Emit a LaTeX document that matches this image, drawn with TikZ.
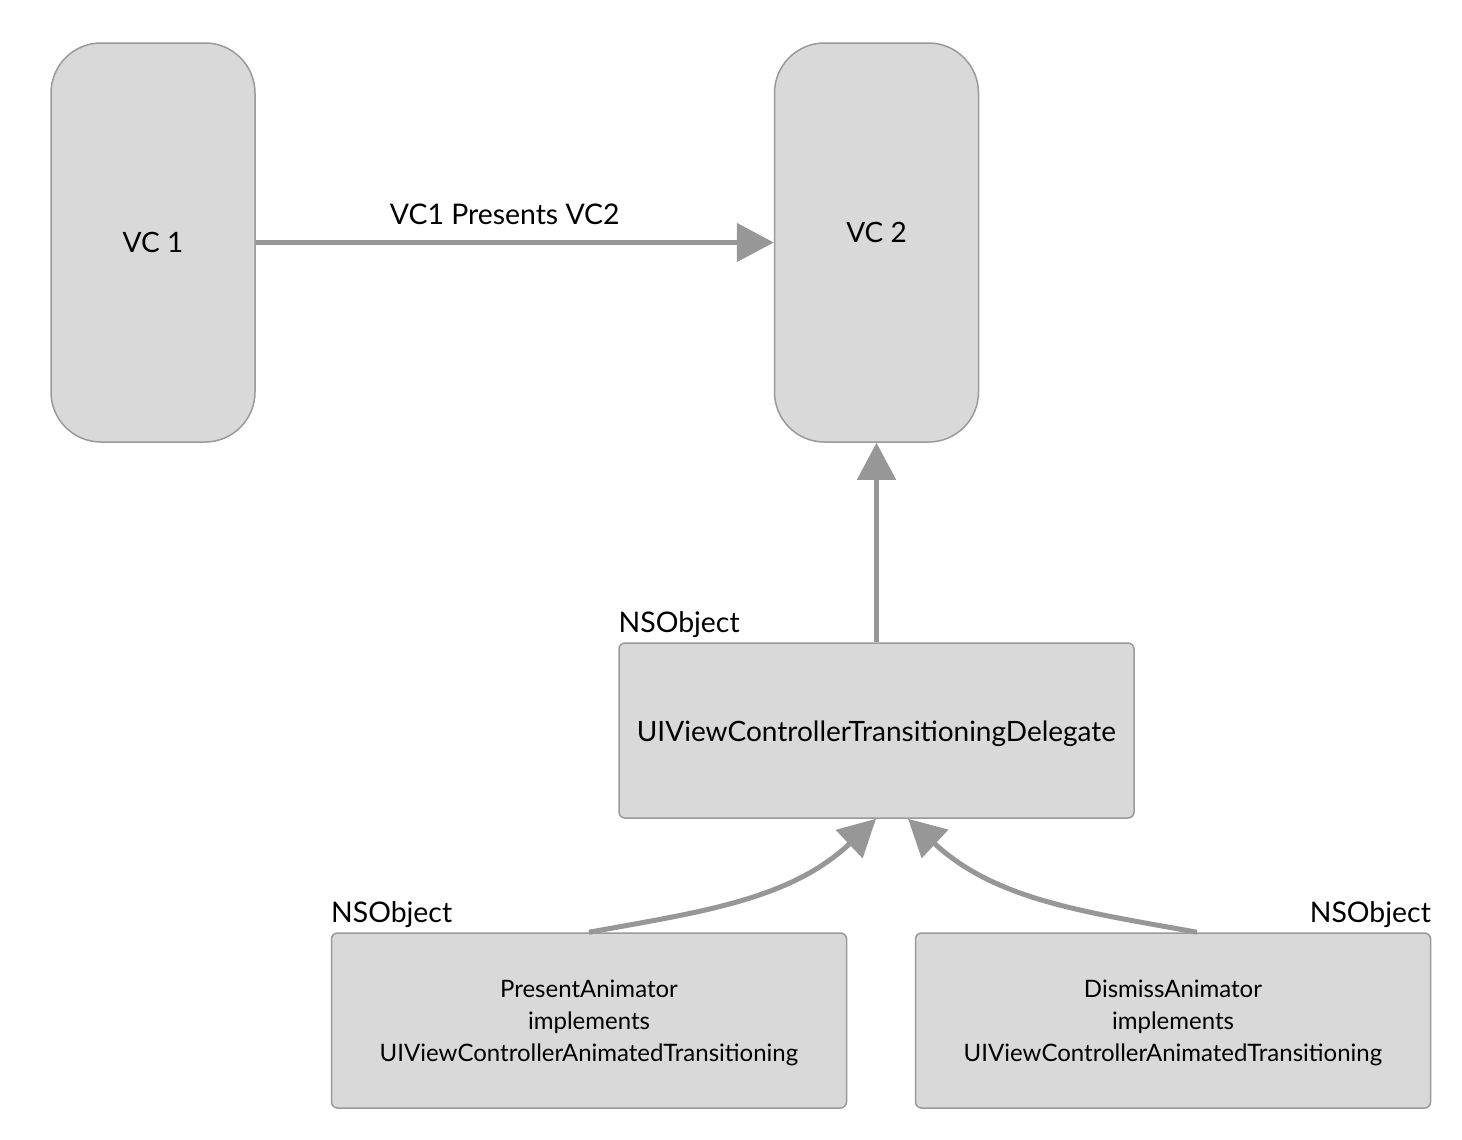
\documentclass[tikz,border=0pt]{standalone}
\usepackage{fontspec}
\setmainfont{Lato}
\usepackage{tikz}
\usetikzlibrary{arrows.meta,positioning}
\definecolor{boxfill}{HTML}{D9D9D9}
\definecolor{boxline}{HTML}{9A9A9A}
\definecolor{arrowgray}{HTML}{979797}

\begin{document}
\begin{tikzpicture}[x=0.5pt,y=-0.5pt,
    vcbox/.style={draw=boxline, fill=boxfill, line width=0.75pt, rounded corners=25pt,
        minimum width=102pt, minimum height=199.5pt, font=\fontsize{14}{16}\selectfont},
    objbox/.style={draw=boxline, fill=boxfill, line width=0.75pt, rounded corners=3pt,
        minimum width=257.5pt, minimum height=87.5pt, align=center},
    tag/.style={inner sep=0pt, font=\fontsize{14.2}{16}\selectfont},
    link/.style={draw=arrowgray, line width=2.5pt, -{Triangle[length=18.5pt,width=19pt]}}]
\useasboundingbox (0,0) rectangle (1462,1140);
\node (VCone) [vcbox] at (153,242.5) {VC 1};
\node (VCtwo) [vcbox] at (876.5,242.5) {\raisebox{10pt}{VC 2}};
\node (Delegate) [objbox, font=\fontsize{14}{16}\selectfont] at (876.5,730.5)
    {\raisebox{-1.5pt}[\height][\depth]{UIViewControllerTransitioningDelegate}};
\node (Present) [objbox, font=\fontsize{12}{16}\selectfont] at (589,1020.5)
    {\raisebox{-1.5pt}[\height][\depth]{\begin{tabular}{c}PresentAnimator\\implements\\UIViewControllerAnimatedTransitioning\end{tabular}}};
\node (Dismiss) [objbox, font=\fontsize{12}{16}\selectfont] at (1173,1020.5)
    {\raisebox{-1.5pt}[\height][\depth]{\begin{tabular}{c}DismissAnimator\\implements\\UIViewControllerAnimatedTransitioning\end{tabular}}};
\node (NSDelegate) [tag, above right=2pt and 0pt of Delegate.north west] {NSObject};
\node (NSPresent) [tag, above right=2pt and 0pt of Present.north west] {NSObject};
\node (NSDismiss) [tag, above left=2pt and 0pt of Dismiss.north east] {NSObject};
\draw[link] (VCone.east) -- node[above=7.5pt, xshift=-5pt, tag] {VC1 Presents VC2} (VCtwo.west);
\draw[link] (Delegate.north) -- (VCtwo.south);
\draw[link] (Present.north) .. controls (700,912) and (790,900) .. ([xshift=-0.25pt]Delegate.south);
\draw[link] ([xshift=12pt]Dismiss.north) .. controls (1085,912) and (995,900) .. ([xshift=15.75pt]Delegate.south);
\end{tikzpicture}
\end{document}
